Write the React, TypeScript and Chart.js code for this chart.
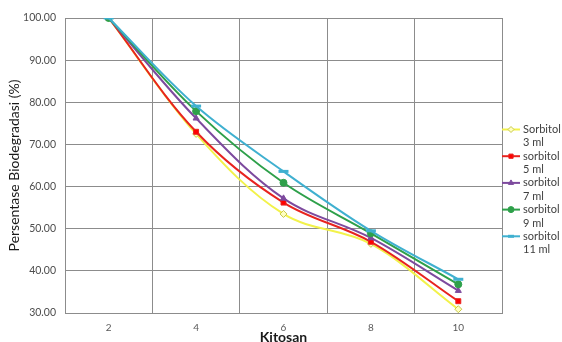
import React, { useEffect, useRef } from "react";
import { Chart, registerables } from "chart.js";
import { drawPoint } from "chart.js/helpers";

Chart.register(...registerables);

const categories = ["2", "4", "6", "8", "10"];
const sorbitol3 = [100, 72.5, 53.5, 46.4, 30.9];
const sorbitol5 = [100, 73.0, 56.2, 46.9, 32.8];
const sorbitol7 = [100, 76.2, 57.2, 47.8, 35.3];
const sorbitol9 = [100, 77.9, 60.9, 48.9, 36.8];
const sorbitol11 = [100, 79.1, 63.6, 49.5, 38.0];
const legendLines = [
  ["Sorbitol", "3 ml"],
  ["sorbitol", "5 ml"],
  ["sorbitol", "7 ml"],
  ["sorbitol", "9 ml"],
  ["sorbitol", "11 ml"],
];

const FONT = "Lato, 'Open Sans', sans-serif";

const legendPlugin = {
  id: "sideLegend",
  afterDraw(chart: any) {
    const ctx = chart.ctx;
    const ds = chart.data.datasets;
    const x0 = chart.chartArea.right;
    const startY = 129.5;
    const step = 26.7;
    ctx.save();
    ds.forEach((d: any, i: number) => {
      const y = startY + i * step;
      ctx.strokeStyle = d.borderColor;
      ctx.lineWidth = 2;
      ctx.beginPath();
      ctx.moveTo(x0, y);
      ctx.lineTo(x0 + 18, y);
      ctx.stroke();
      ctx.fillStyle = d.pointBackgroundColor;
      ctx.strokeStyle = d.pointBorderColor;
      ctx.lineWidth = d.pointBorderWidth || 1;
      drawPoint(ctx, { pointStyle: d.pointStyle, radius: 3, borderWidth: d.pointBorderWidth || 1, rotation: 0 } as any, x0 + 9, y);
      ctx.fillStyle = "#404040";
      ctx.font = `11px ${FONT}`;
      ctx.textBaseline = "middle";
      ctx.textAlign = "left";
      const lines = legendLines[i];
      ctx.fillText(lines[0], x0 + 21, y);
      ctx.fillText(lines[1], x0 + 21, y + 13.4);
    });
    ctx.restore();
  },
};

export default function App() {
  const ref = useRef<HTMLCanvasElement | null>(null);
  useEffect(() => {
    document.body.style.margin = "0";
    const canvas = ref.current!;
    const mk = (label: string, data: number[], color: string, style: string, bg: string, border: string, radius: number, order: number, bw = 1) => ({
      label,
      data,
      borderColor: color,
      backgroundColor: color,
      borderWidth: 2,
      pointStyle: style,
      pointRadius: radius,
      pointBackgroundColor: bg,
      pointBorderColor: border,
      pointBorderWidth: bw,
      tension: 0.35,
      order,
    });
    const chart = new Chart(canvas, {
      type: "line",
      data: {
        labels: categories,
        datasets: [
          mk("Sorbitol 3 ml", sorbitol3, "#f2f24a", "rectRot", "#ffffc0", "#c8c84a", 3.5, 5),
          mk("sorbitol 5 ml", sorbitol5, "#e8231f", "rect", "#ff0000", "#e8231f", 3.5, 4),
          mk("sorbitol 7 ml", sorbitol7, "#7d4a9e", "triangle", "#7d4a9e", "#7d4a9e", 3.5, 3),
          mk("sorbitol 9 ml", sorbitol9, "#2ea04a", "circle", "#2ea04a", "#2ea04a", 3.5, 2),
          mk("sorbitol 11 ml", sorbitol11, "#3fb0d0", "line", "#3fb0d0", "#3fb0d0", 5, 1, 3),
        ],
      },
      options: {
        animation: false,
        responsive: false,
        layout: { padding: { left: 0, right: 60, top: 18, bottom: 0 } },
        plugins: { legend: { display: false }, tooltip: { enabled: false } },
        scales: {
          x: {
            type: "category",
            offset: true,
            grid: { offset: true, color: "#8c8c8c", drawTicks: false, lineWidth: 1 },
            border: { color: "#8c8c8c" },
            ticks: { color: "#595959", font: { family: FONT, size: 10 }, padding: 9 },
            title: { display: true, text: "Kitosan", color: "#1a1a1a", font: { family: FONT, size: 14, weight: "bold" }, padding: { top: 0, bottom: -4 } },
            afterFit: (s: any) => { s.height = 29; },
          },
          y: {
            min: 30,
            max: 100,
            grid: { color: "#8c8c8c", drawTicks: false, lineWidth: 1 },
            border: { color: "#8c8c8c" },
            ticks: { stepSize: 10, color: "#4d4d4d", font: { family: FONT, size: 10.5 }, padding: 9, callback: (v: any) => Number(v).toFixed(2) },
            title: { display: true, text: "Persentase Biodegradasi (%)", color: "#1a1a1a", font: { family: FONT, size: 14 }, padding: { top: 6, bottom: 0 } },
            afterFit: (s: any) => { s.width = 65; },
          },
        },
      },
      plugins: [legendPlugin],
    } as any);
    return () => chart.destroy();
  }, []);
  return (
    <div style={{ width: 562, height: 342, background: "#fff" }}>
      <canvas ref={ref} width={562} height={342} />
    </div>
  );
}
